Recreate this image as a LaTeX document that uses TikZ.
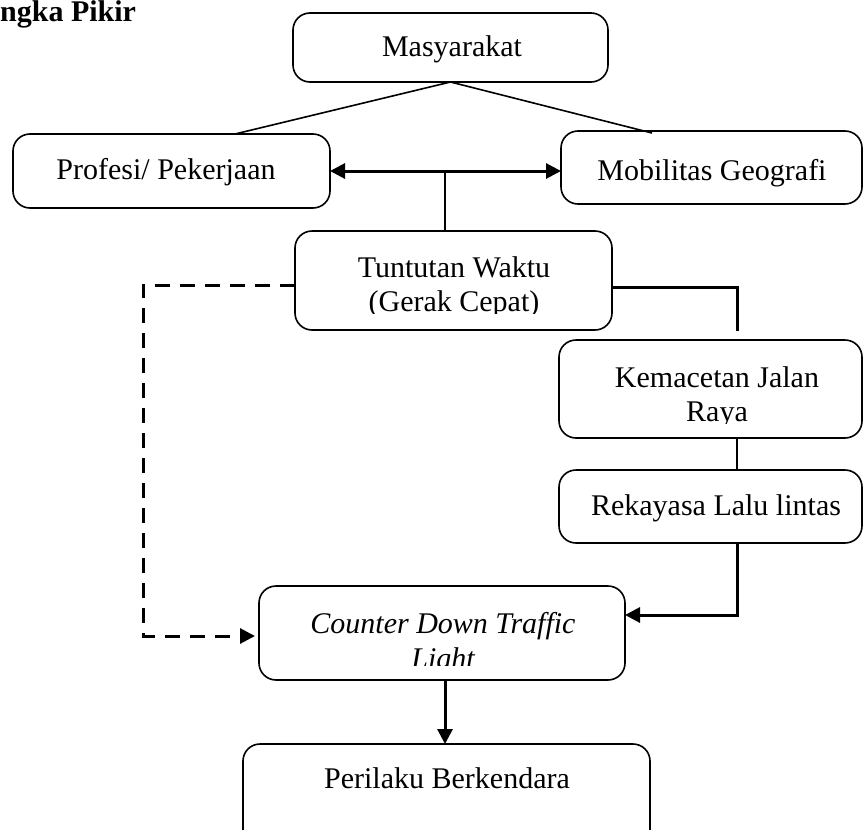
\documentclass[tikz,border=0pt]{standalone}
\usepackage{fontspec}
\setmainfont{Liberation Serif}
\usetikzlibrary{arrows.meta}
\begin{document}
\begin{tikzpicture}[x=1pt,y=-1pt,
  box/.style={draw, line width=1.6pt, rounded corners=17pt, inner sep=0pt, outer sep=0pt},
  lbl/.style={inner sep=0pt, anchor=base, font=\fontsize{30}{35}\selectfont},
  thinline/.style={line width=1.6pt},
  heavy/.style={line width=3pt},
  tip/.style={-{Triangle[length=15pt,width=15pt]}},
  dashline/.style={line width=3pt, dash pattern=on 15pt off 10pt}
]
\useasboundingbox (0,0) rectangle (865,830);

% title
\node[inner sep=0pt, anchor=base west, font=\bfseries\fontsize{30}{35}\selectfont] (title) at (0,21) {ngka Pikir};

% boxes
\node[box, minimum width=315pt, minimum height=69pt] (masy) at (450.5,47.5) {};
\node[box, minimum width=317pt, minimum height=74pt] (prof) at (171.5,171) {};
\node[box, minimum width=301pt, minimum height=73pt] (mob) at (711.5,167.5) {};
\node[box, minimum width=317pt, minimum height=99pt] (tunt) at (453.5,280.5) {};
\node[box, minimum width=303pt, minimum height=98pt] (kem) at (710.5,389) {};
\node[box, minimum width=303pt, minimum height=73pt] (rek) at (710.5,506.5) {};
\node[box, minimum width=366pt, minimum height=94pt] (cdt) at (442,633) {};
\node[box, minimum width=407pt, minimum height=116pt] (peri) at (446.5,802) {};

% texts
\node[lbl] (tmasy) at (452,56) {Masyarakat};
\node[lbl] (tprof) at (166,179) {Profesi/ Pekerjaan};
\node[lbl] (tmob) at (712,180) {Mobilitas Geografi};
\begin{scope}
  \clip (295,231) rectangle (612,313);
  \node[lbl] (ttun1) at (454,277) {Tuntutan Waktu};
  \node[lbl] (ttun2) at (454,311) {(Gerak Cepat)};
\end{scope}
\begin{scope}
  \clip (559,340) rectangle (862,423);
  \node[lbl] (tkem1) at (717,387) {Kemacetan Jalan};
  \node[lbl] (tkem2) at (717,421) {Raya};
\end{scope}
\node[lbl] (trek) at (716,515) {Rekayasa Lalu lintas};
\begin{scope}
  \clip (259,586) rectangle (625,665);
  \node[lbl, font=\itshape\fontsize{30}{35}\selectfont] (tcdt1) at (443,633) {Counter Down Traffic};
  \node[lbl, font=\itshape\fontsize{30}{35}\selectfont] (tcdt2) at (443,668) {Light};
\end{scope}
\node[lbl] (tperi) at (447,788) {Perilaku Berkendara};

% connectors
\coordinate (pl) at (235,134);
\coordinate (pr) at (652,133);
\draw[thinline] (pl) -- (masy.south) -- (pr);

\draw[heavy, {Triangle[length=15pt,width=15pt]}-{Triangle[length=15pt,width=15pt]}]
  (prof.east) -- (prof.east -| mob.west);

\coordinate (j1) at (445,171);
\draw[thinline] (j1) -- (j1 |- tunt.north);

\coordinate (k1) at (737,331);
\draw[heavy] ([yshift=-6.5pt]tunt.east) -| (k1);

\coordinate (dl) at (143,636);
\draw[dashline, tip, shorten >=4pt] ([yshift=-4.5pt]tunt.west) -| (dl) -- ([yshift=-3pt]cdt.west);

\draw[thinline] (kem.south -| k1) -- (rek.north -| k1);
\draw[heavy, tip] (rek.south -| k1) |- ([yshift=18pt]cdt.east);

\draw[heavy, tip] ([xshift=3pt]cdt.south) -- ([xshift=3pt]cdt.south |- peri.north);
\end{tikzpicture}
\end{document}
